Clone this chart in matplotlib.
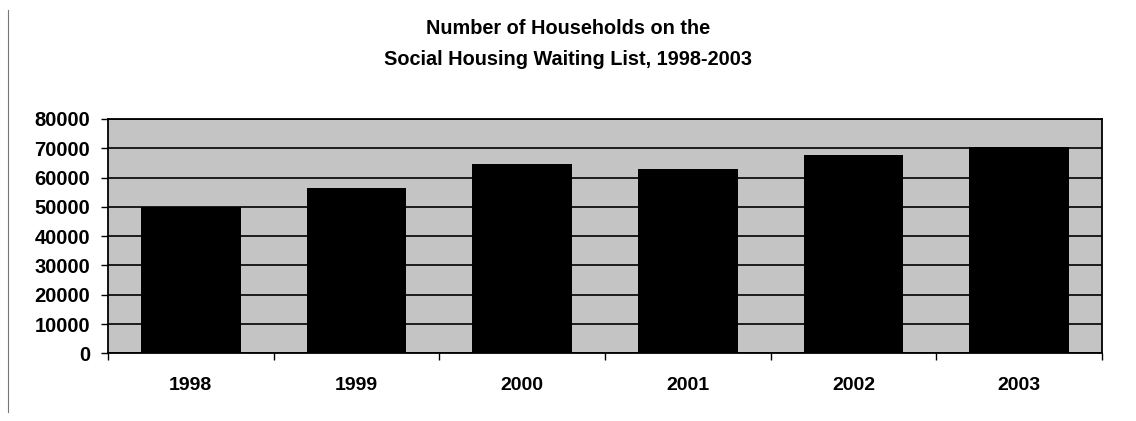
import matplotlib
matplotlib.use("Agg")
import matplotlib.pyplot as plt
from matplotlib.lines import Line2D

years = ["1998", "1999", "2000", "2001", "2002", "2003"]
households = [50000, 56300, 64800, 62900, 67700, 70500]
yticks = [0, 10000, 20000, 30000, 40000, 50000, 60000, 70000, 80000]
title = "Number of Households on the\nSocial Housing Waiting List, 1998-2003"

plt.rcParams['font.family'] = ['Liberation Sans', 'DejaVu Sans']

W, H = 1136, 421
fig = plt.figure(figsize=(W / 100, H / 100), dpi=100)
left, right, top, bottom = 108, 1102, 119, 353.3
ax = fig.add_axes([left / W, 1 - bottom / H, (right - left) / W, (bottom - top) / H])
ax.set_facecolor('#c4c4c4')

x = list(range(len(years)))
ax.bar(x, households, width=0.6, color='black', zorder=3)
ax.set_xlim(-0.5, len(years) - 0.5)
ax.set_ylim(0, 80000)
ax.set_yticks(yticks)
ax.set_yticklabels([str(v) for v in yticks], fontsize=14.5, fontweight='bold')
ax.yaxis.grid(True, color='black', linewidth=1.2, zorder=1)
ax.set_axisbelow(True)

ax.set_xticks(x)
ax.set_xticklabels(years, fontsize=14, fontweight='bold')
ax.tick_params(axis='x', length=0, pad=17)
ax.set_xticks([i + 0.5 for i in range(-1, len(years))], minor=True)
ax.tick_params(axis='x', which='minor', length=5, width=1, direction='out')
ax.tick_params(axis='y', length=5, width=1, direction='out', pad=8)
for s in ax.spines.values():
    s.set_linewidth(1.3)
    s.set_color('black')

fig.text(0.5, 1 - 44 / H, title, ha='center', va='center', fontsize=14.3,
         fontweight='bold', linespacing=1.75)

# outer frame line on the left
fig.add_artist(Line2D([8 / W, 8 / W], [1 - 10 / H, 1 - 412 / H],
                      color='#777777', linewidth=0.8, transform=fig.transFigure))

fig.savefig("out.png", dpi=100)
